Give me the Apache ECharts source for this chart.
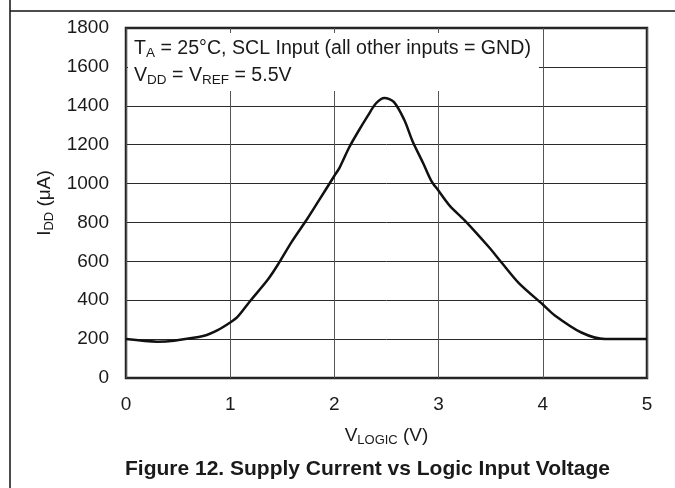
<!DOCTYPE html>
<html>
<head>
<meta charset="utf-8">
<script src="https://cdn.jsdelivr.net/npm/echarts@6/dist/echarts.min.js"></script>
<style>
  html, body { margin: 0; padding: 0; background: #ffffff; }
  #main { width: 675px; height: 488px; }
</style>
</head>
<body>
<div id="main"></div>
<script>
// V_LOGIC (V) and I_DD (uA)
var volts = [0, 0.3, 0.46, 0.75, 0.88, 1.0, 1.07, 1.19, 1.36, 1.46, 1.59, 1.74, 1.85, 2.0, 2.05, 2.14, 2.22, 2.32, 2.40, 2.48, 2.57, 2.67, 2.75, 2.85, 2.93, 3.0, 3.11, 3.25, 3.48, 3.61, 3.77, 4.0, 4.11, 4.37, 4.6, 5.0];
var idd = [200, 187, 192, 217, 246, 285, 314, 395, 505, 585, 700, 819, 912, 1040, 1082, 1184, 1260, 1348, 1413, 1440, 1420, 1328, 1218, 1107, 1014, 963, 884, 811, 675, 590, 488, 378, 324, 234, 200, 200];
var xTicks = [0, 1, 2, 3, 4, 5];
var yTicks = [0, 200, 400, 600, 800, 1000, 1200, 1400, 1600, 1800];

var font = "'Liberation Sans', Arial, sans-serif";
var ink = "#1a1a1a";

var pts = [];
for (var i = 0; i < volts.length; i++) {
  pts.push([volts[i], idd[i]]);
}

// subscript styles for rich text
var rich = {
  n: { fontSize: 19, fontFamily: font, color: ink },
  s: { fontSize: 13, fontFamily: font, color: ink, padding: [10, 0, 0, 0] }
};

var chart = echarts.init(document.getElementById("main"));
var option = {
  animation: false,
  title: {
    text: "Figure 12. Supply Current vs Logic Input Voltage",
    left: 120,
    top: 454,
    textStyle: { fontSize: 21, fontWeight: "bold", fontFamily: font, color: ink }
  },
  grid: {
    left: 126,
    right: 28,
    top: 28,
    bottom: 110,
    show: true,
    borderColor: "#222",
    borderWidth: 2.5
  },
  xAxis: {
    type: "value",
    min: xTicks[0],
    max: xTicks[xTicks.length - 1],
    interval: 1,
    name: "{n|V}{s|LOGIC}{n| (V)}",
    nameLocation: "middle",
    nameGap: 46,
    nameTextStyle: { rich: rich },
    axisLine: { show: false },
    axisTick: { show: false },
    axisLabel: { fontSize: 19, fontFamily: font, color: ink, margin: 17 },
    splitLine: { show: true, lineStyle: { color: "#555", width: 1 } }
  },
  yAxis: {
    type: "value",
    min: yTicks[0],
    max: yTicks[yTicks.length - 1],
    interval: 200,
    name: "{n|I}{s|DD}{n| (\u03bcA)}",
    nameLocation: "middle",
    nameRotate: 90,
    nameGap: 63,
    nameTextStyle: { rich: rich },
    axisLine: { show: false },
    axisTick: { show: false },
    axisLabel: {
      fontSize: 19, fontFamily: font, color: ink, margin: 17,
      formatter: function (v) { return String(v); }
    },
    splitLine: { show: true, lineStyle: { color: "#2a2a2a", width: 1 } }
  },
  series: [
    {
      type: "line",
      data: pts,
      smooth: 0.3,
      showSymbol: false,
      lineStyle: { color: "#111", width: 2.5 },
      z: 3
    }
  ],
  graphic: [
    {
      type: "line",
      shape: { x1: 10, y1: 0, x2: 10, y2: 488 },
      style: { stroke: "#111", lineWidth: 1.5 }
    },
    {
      type: "line",
      shape: { x1: 10, y1: 11, x2: 675, y2: 11 },
      style: { stroke: "#111", lineWidth: 1.5 }
    },
    {
      // condition note, white box hides the grid behind it
      type: "text",
      left: 128,
      top: 33,
      z: 10,
      style: {
        text: "{n|T}{s|A}{n| = 25\u00b0C, SCL Input (all other inputs = GND)}\n{n|V}{s|DD}{n| = V}{s|REF}{n| = 5.5V}",
        rich: {
          n: { fontSize: 19.6, fontFamily: font, fill: ink, lineHeight: 27 },
          s: { fontSize: 13.5, fontFamily: font, fill: ink, lineHeight: 17, padding: [10, 0, 0, 0] }
        },
        backgroundColor: "#fff",
        padding: [2, 8, 2, 6]
      }
    }
  ]
};
chart.setOption(option);
</script>
</body>
</html>
